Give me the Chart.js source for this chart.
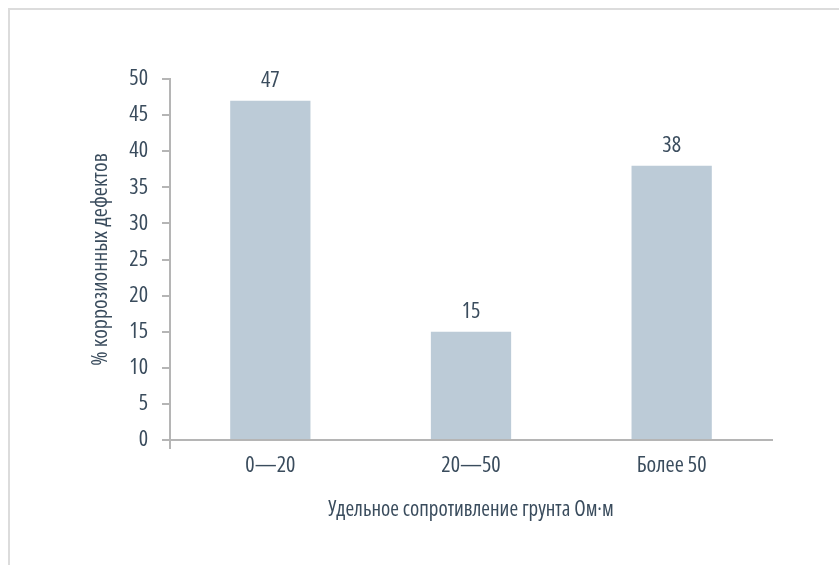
<!DOCTYPE html>
<html lang="ru">
<head>
<meta charset="utf-8">
<title>Коррозионные дефекты</title>
<script src="https://cdn.jsdelivr.net/npm/chart.js@4"></script>
<style>
    html, body { margin: 0; padding: 0; background: #fff; overflow: hidden; }
    .wrap { position: relative; width: 839px; height: 565px; }
    .frame {
        position: absolute; left: 8px; top: 8px; width: 900px; height: 600px;
        border-top: 2px solid #dcdcdc; border-left: 2px solid #dcdcdc;
    }
    canvas { position: absolute; left: 0; top: 0; }
</style>
</head>
<body>
<div class="wrap">
    <div class="frame"></div>
    <canvas id="chart" width="839" height="565"></canvas>
</div>
<script>
const categories = ['0—20', '20—50', 'Более 50'];
const defectShare = [47, 15, 38];
const yTicks = [0, 5, 10, 15, 20, 25, 30, 35, 40, 45, 50];

// Open Sans variable font, narrowed through font-stretch (put in the weight slot)
const FAMILY = '"Open Sans", sans-serif';
const WEIGHT = '500 condensed';
const TEXT = '#3a4c5d';
const AXIS = '#b5b5b5';

const font = size => ({ family: FAMILY, weight: WEIGHT, size: size });

// value labels above each bar
const valueLabels = {
    id: 'valueLabels',
    afterDatasetsDraw(chart) {
        const ctx = chart.ctx;
        const meta = chart.getDatasetMeta(0);
        ctx.save();
        ctx.font = WEIGHT + ' 22px ' + FAMILY;
        ctx.fillStyle = TEXT;
        ctx.textAlign = 'center';
        ctx.textBaseline = 'middle';
        meta.data.forEach((bar, i) => {
            ctx.fillText(String(defectShare[i]), bar.x, bar.y - 20);
        });
        ctx.restore();
    }
};

new Chart(document.getElementById('chart'), {
    type: 'bar',
    data: {
        labels: categories,
        datasets: [{
            data: defectShare,
            backgroundColor: '#bccbd7',
            barPercentage: 0.4,
            categoryPercentage: 1
        }]
    },
    options: {
        responsive: false,
        animation: false,
        layout: { padding: { left: 0, top: 79, right: 67, bottom: 0 } },
        plugins: { legend: { display: false }, tooltip: { enabled: false } },
        scales: {
            x: {
                grid: {
                    drawOnChartArea: false,
                    tickLength: 9,
                    lineWidth: 2,
                    color: c => c.index === 0 ? AXIS : 'rgba(0,0,0,0)'
                },
                border: { color: AXIS, width: 2 },
                ticks: { color: TEXT, font: font(22), padding: 4 },
                title: {
                    display: true,
                    text: 'Удельное сопротивление грунта Ом·м',
                    color: TEXT,
                    font: font(21),
                    padding: { top: 0, bottom: 42 }
                },
                afterFit: s => { s.height = 125; }
            },
            y: {
                min: 0,
                max: 50,
                afterBuildTicks: s => { s.ticks = yTicks.map(v => ({ value: v })); },
                grid: { drawOnChartArea: false, tickLength: 8, lineWidth: 2, color: AXIS },
                border: { color: AXIS, width: 2 },
                ticks: { color: TEXT, font: font(22), padding: 14 },
                title: {
                    display: true,
                    text: '% коррозионных дефектов',
                    color: TEXT,
                    font: font(22),
                    padding: { top: 88, bottom: 0 }
                },
                afterFit: s => { s.width = 170; }
            }
        }
    },
    plugins: [valueLabels]
});
</script>
</body>
</html>
